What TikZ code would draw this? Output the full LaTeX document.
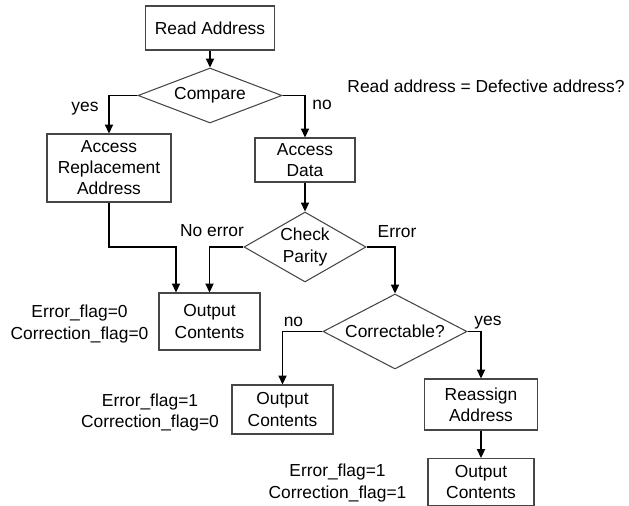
\documentclass[tikz,border=0pt]{standalone}
\usepackage{fontspec}
\setmainfont{Liberation Sans}
\usetikzlibrary{shapes.geometric,arrows.meta}
\definecolor{boxgray}{RGB}{70,70,70}
\begin{document}
\begin{tikzpicture}[x=0.02cm,y=-0.02cm,
  font=\fontsize{9.9}{12}\selectfont,
  box/.style={draw=boxgray,line width=0.6pt,align=center,inner sep=0pt},
  decision/.style={diamond,draw=boxgray,line width=0.6pt,align=center,inner sep=0pt},
  conn/.style={draw=black,line width=1.1pt,-{Triangle[length=5pt,width=4.5pt]}},
  lbl/.style={align=center,inner sep=0pt}]
\useasboundingbox[fill=white] (0,0) rectangle (629,506);

% process boxes and decisions
\node[box,minimum width=2.58cm,minimum height=0.88cm] (ra) at (210,28) {Read Address};
\node[decision,minimum width=2.88cm,minimum height=1.1cm,aspect=2.6] (cmp) at (210,95.5) {Compare};
\node[box,minimum width=2.48cm,minimum height=1.36cm] (ara) at (109,168) {Access\\Replacement\\Address};
\node[box,minimum width=2.0cm,minimum height=0.88cm] (ad) at (305,160) {Access\\Data};
\node[decision,minimum width=2.44cm,minimum height=1.4cm,aspect=1.74] (cp) at (305,247) {Check\\Parity};
\node[box,minimum width=2.02cm,minimum height=1.14cm] (o1) at (209.5,321.5) {Output\\Contents};
\node[decision,minimum width=2.88cm,minimum height=1.5cm,aspect=1.92] (cor) at (395,331.5) {Correctable?};
\node[box,minimum width=2.02cm,minimum height=0.98cm] (o2) at (282.5,409.5) {Output\\Contents};
\node[box,minimum width=2.26cm,minimum height=1.02cm] (rea) at (481,404.5) {Reassign\\Address};
\node[box,minimum width=2.12cm,minimum height=0.94cm] (o3) at (481,482) {Output\\Contents};

% connectors
\coordinate (j1) at (176,247);
\draw[conn] (ra.south) -- (cmp.north);
\draw[conn] (cmp.west) -| (ara.north);
\draw[conn] (cmp.east) -| (ad.north);
\draw[conn] (ad.south) -- (cp.north);
\draw[conn] (cp.west) -| (o1.north);
\draw[conn] (ara.south) |- (j1) -- (j1 |- o1.north);
\draw[conn] (cp.east) -| (cor.north);
\draw[conn] (cor.west) -| (o2.north);
\draw[conn] (cor.east) -| (rea.north);
\draw[conn] (rea.south) -- (o3.north);

% labels
\node[lbl,anchor=base] (lyes1) at (85,112) {yes};
\node[lbl,anchor=base] (lno1) at (322,110) {no};
\node[lbl,anchor=base] (lq) at (486,93) {Read address = Defective address?};
\node[lbl,anchor=base] (lnoerr) at (212,237) {No error};
\node[lbl,anchor=base] (lerr) at (397,238) {Error};
\node[lbl,anchor=base] (lno2) at (293.5,327) {no};
\node[lbl,anchor=base] (lyes2) at (488,326) {yes};
\node[lbl] (f1) at (79.5,324) {Error\_flag=0\\Correction\_flag=0};
\node[lbl] (f2) at (150,412.5) {Error\_flag=1\\Correction\_flag=0};
\node[lbl] (f3) at (337.5,483) {Error\_flag=1\\Correction\_flag=1};
\end{tikzpicture}
\end{document}
